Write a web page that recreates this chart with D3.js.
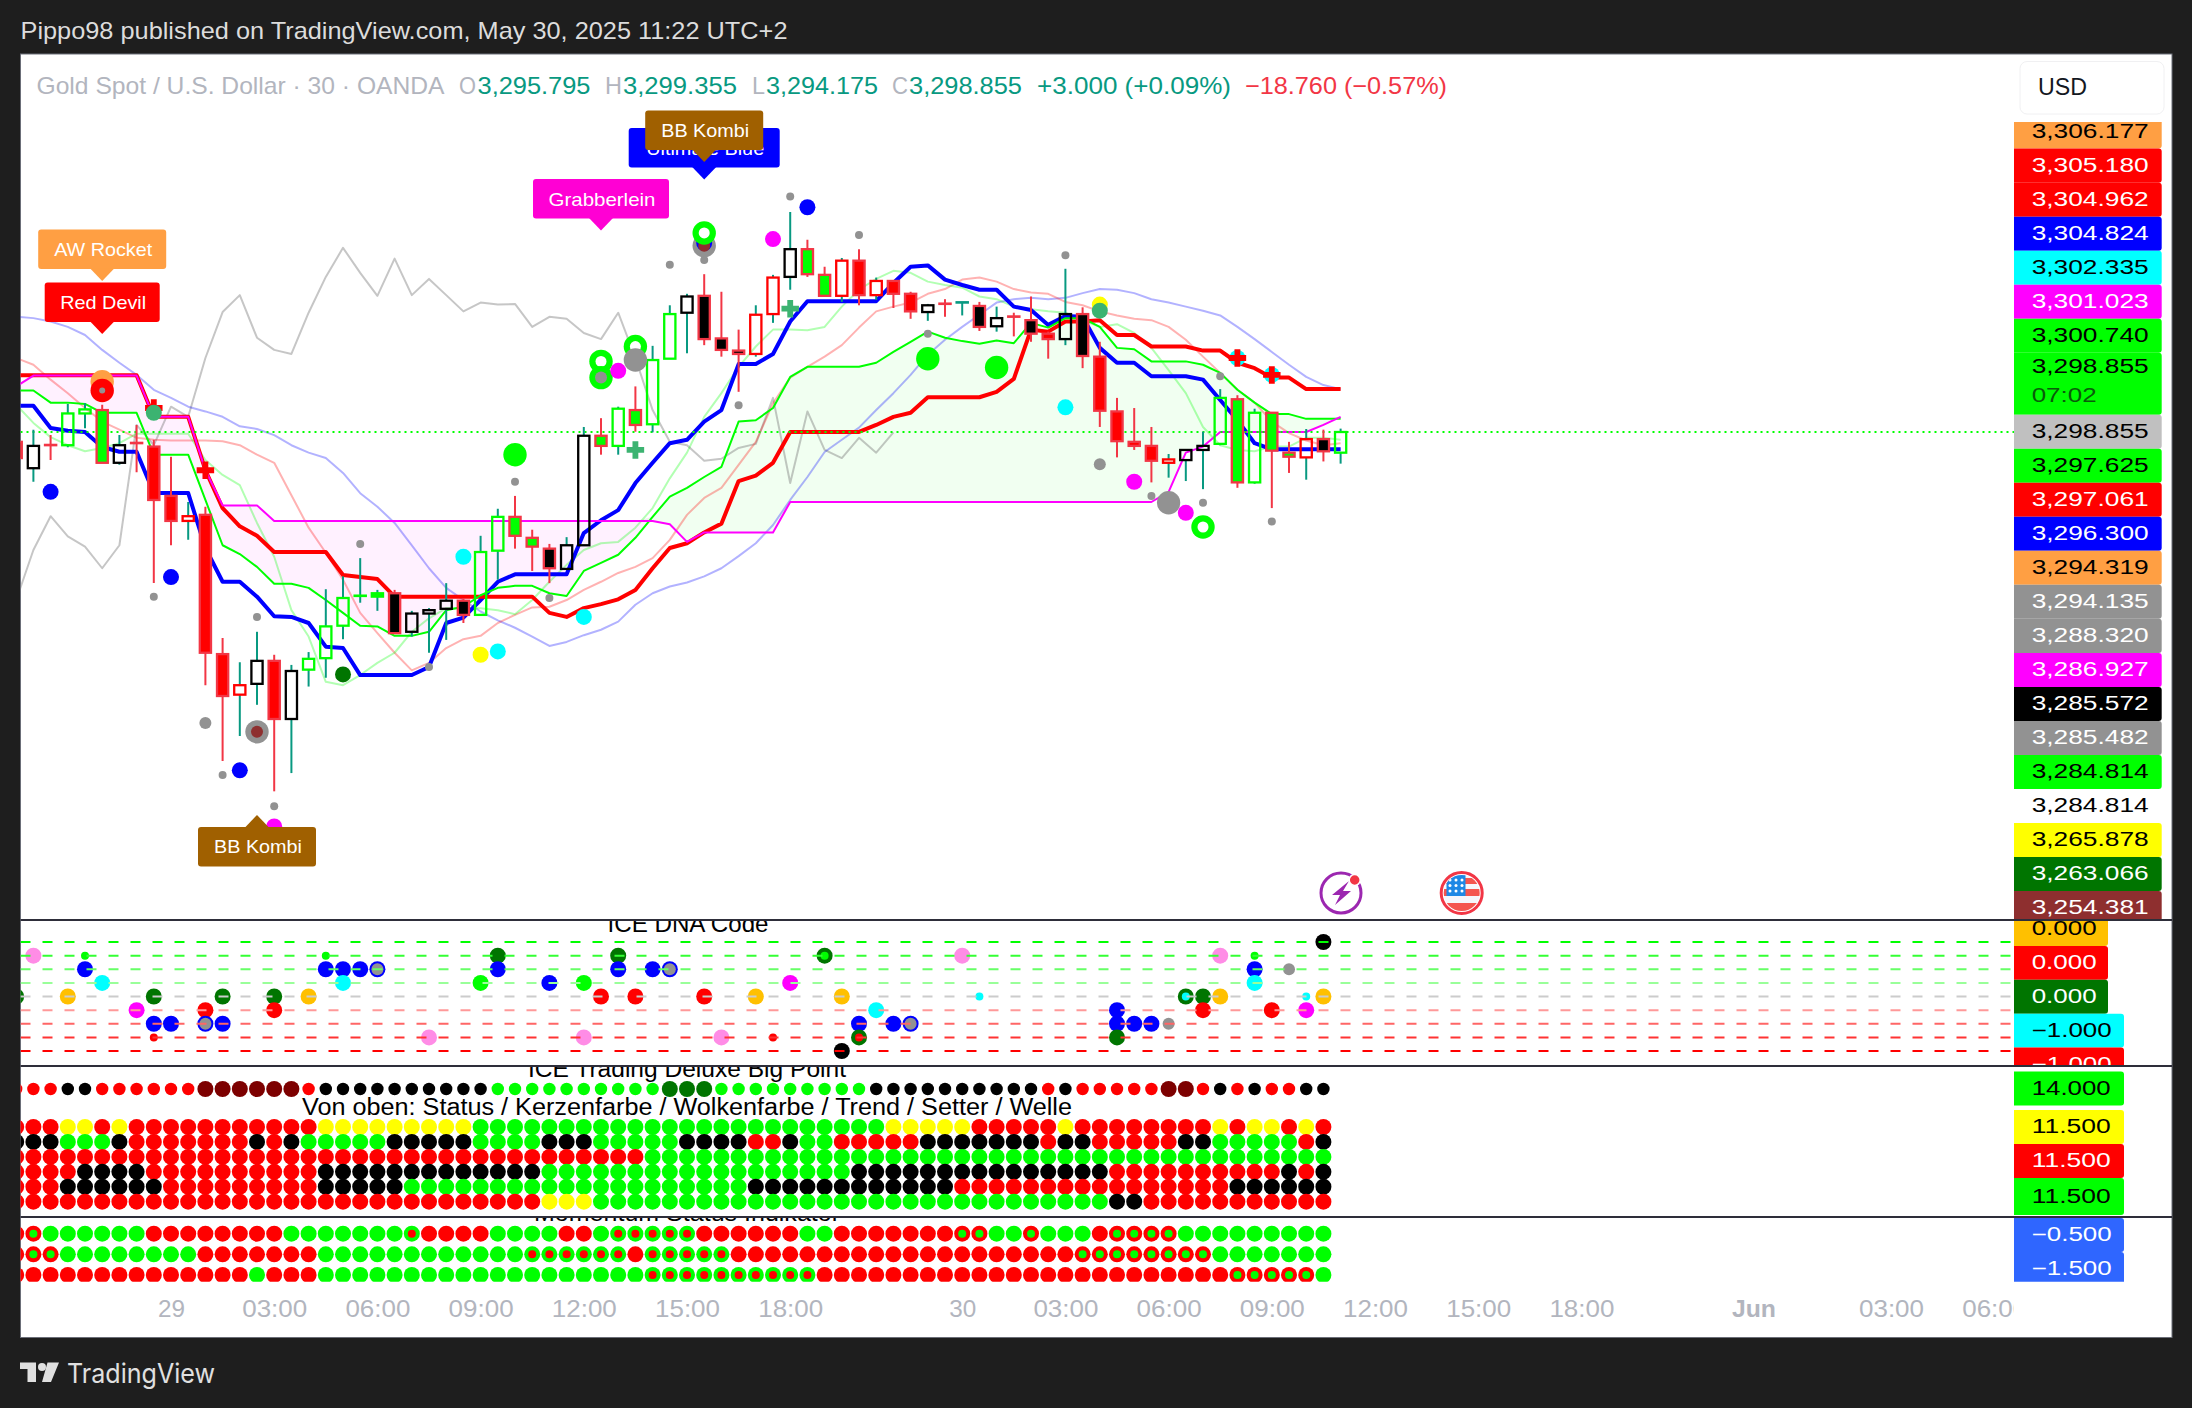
<!DOCTYPE html>
<html><head><meta charset="utf-8">
<style>html,body{margin:0;padding:0;background:#1e1e1e}svg{display:block}text{font-family:"Liberation Sans",Arial,sans-serif}</style>
<script src="https://cdn.jsdelivr.net/npm/d3@7"></script>
</head><body><script>
// ---------- bars: first bar index -9 (May 28, 19:30), index 0 = May 29 00:00 ----------
const firstBar=-9;
const openPrice=[3297.4,3293.5,3296.95,3296.9,3301.6,3302.1,3294.3,3297.25,3296.7,3289.4,3285.7,3286.6,3266.0,3260.0,3261.6,3265.0,3256.4,3263.7,3265.4,3270.2,3274.6,3274.5,3275.0,3269.3,3272.0,3272.7,3273.9,3271.8,3281.3,3286.3,3283.2,3281.6,3278.6,3282.1,3298.3,3296.8,3302.1,3300.0,3309.7,3316.5,3319.0,3312.7,3310.9,3310.4,3316.3,3321.8,3325.9,3322.1,3319.0,3324.2,3319.1,3321.2,3319.3,3316.6,3317.85,3318.0,3317.5,3314.5,3315.95,3315.4,3313.4,3312.6,3316.3,3310.0,3301.9,3297.4,3296.8,3294.3,3294.7,3296.2,3297.1,3303.7,3291.4,3301.7,3295.8,3295.1,3297.8,3295.795];
const closePrice=[3295.0,3296.8,3296.9,3301.6,3302.2,3294.3,3296.9,3297.2,3288.8,3285.7,3286.4,3266.2,3259.8,3261.4,3265.0,3256.4,3263.5,3265.3,3270.1,3274.3,3274.65,3275.0,3269.1,3272.0,3272.5,3273.9,3271.8,3281.1,3286.3,3283.5,3281.9,3278.7,3282.1,3298.3,3296.8,3302.3,3299.9,3309.5,3316.3,3318.9,3312.6,3311.0,3310.4,3316.2,3321.7,3325.9,3322.2,3319.0,3324.2,3319.1,3321.2,3319.3,3316.7,3317.6,3317.8,3318.05,3314.4,3315.7,3315.9,3313.4,3312.6,3316.3,3310.1,3302.0,3297.5,3296.8,3294.6,3294.8,3296.2,3296.8,3303.9,3291.4,3301.7,3296.1,3295.2,3297.8,3296.0,3298.855];
const highPrice=[3297.7,3299.2,3298.4,3303.0,3303.1,3302.9,3298.4,3299.9,3297.7,3295.2,3288.5,3287.8,3268.4,3264.8,3269.3,3265.9,3264.4,3266.3,3275.6,3277.5,3280.2,3275.5,3275.5,3272.4,3272.8,3276.5,3274.3,3283.5,3287.5,3289.4,3284.4,3282.3,3283.3,3299.6,3300.9,3302.6,3305.6,3311.6,3317.6,3319.3,3322.2,3319.6,3314.0,3317.6,3322.1,3331.4,3327.3,3323.3,3324.6,3325.9,3321.7,3321.3,3319.6,3317.8,3318.5,3318.1,3318.1,3317.4,3316.5,3318.9,3313.7,3323.0,3317.3,3312.2,3303.9,3302.4,3299.6,3295.6,3296.3,3298.9,3305.2,3304.3,3302.3,3301.8,3297.4,3299.3,3299.2,3299.355];
const lowPrice=[3291.2,3291.5,3294.7,3296.6,3299.4,3294.3,3294.0,3292.9,3276.5,3282.1,3282.9,3261.4,3250.2,3253.9,3258.5,3245.7,3248.4,3261.2,3262.5,3268.2,3273.6,3272.4,3269.1,3268.6,3266.2,3268.1,3270.6,3271.8,3277.0,3281.6,3278.3,3276.5,3278.6,3282.1,3295.5,3295.5,3298.9,3298.8,3309.7,3310.5,3311.7,3310.0,3304.8,3310.0,3315.0,3319.9,3321.8,3319.0,3318.1,3317.6,3318.4,3317.2,3315.6,3315.3,3315.9,3316.1,3313.8,3313.7,3313.0,3312.2,3309.7,3311.7,3308.3,3299.6,3295.1,3296.2,3291.4,3292.1,3291.6,3290.4,3296.9,3290.6,3291.2,3287.6,3292.8,3291.8,3294.5,3294.175];
const candleStyle=["rr","wk","rr","wg","wg","gr","wk","rr","rr","rr","wr","rr","rr","wr","wk","rr","wk","wg","wg","wg","wg","gg","kr","wk","wk","wk","kr","wg","wg","gr","gr","kr","wk","wk","gr","wg","gr","wg","wg","wk","kr","kr","kr","wr","wr","wk","gr","gr","wr","rr","wr","rr","rr","wk","rr","tt","kr","wk","rr","kr","rr","wk","kr","rr","rr","rr","rr","wr","wk","wk","wg","gr","wg","gr","gr","wr","kr","wg"];
// ---------- overlay lines ----------
const blueLine=[3302.75,3302.75,3299.45,3299.05,3298.86,3296.64,3295.94,3295.94,3289.83,3289.83,3289.83,3281.7,3276.7,3276.7,3274.5,3271.6,3271.5,3270.6,3267.1,3266.9,3262.9,3262.9,3262.9,3262.9,3264.1,3270.6,3271.4,3274,3276.7,3277.8,3277.8,3277.8,3277.8,3283.9,3285.8,3287.3,3291.3,3294.3,3297.2,3297.7,3300.4,3302.1,3308.9,3308.9,3310.4,3315.2,3318.2,3318.2,3318.2,3318.2,3318.2,3320.9,3323.3,3323.5,3321.4,3320.6,3319.9,3319.9,3317.4,3316.9,3314.7,3316,3315.9,3311.3,3309.1,3309.1,3307.1,3307.1,3307.1,3306.6,3303.6,3300.6,3297.2,3296.3,3296.3,3296.3,3296.3,3296.3];
const redLine=[3307.25,3307.25,3307.25,3307.25,3307.25,3307.25,3307.25,3307.25,3301.1,3301.1,3301.1,3293.2,3287.6,3284.9,3283.5,3281.1,3281.1,3281.1,3281.1,3277.7,3277.4,3277.1,3274.5,3274.5,3274.5,3274.5,3274.5,3274.5,3274.5,3274.5,3274.5,3272.1,3271.5,3272.8,3273.4,3274.1,3275.5,3278.7,3281.7,3282.4,3284,3285.3,3291.6,3292.4,3294.3,3298.86,3298.86,3298.86,3298.86,3298.86,3299.9,3301.1,3301.7,3304,3304,3304,3304,3304.8,3306.7,3314,3313.7,3315.2,3315.2,3315.4,3313.2,3313.2,3311.5,3311.5,3311.5,3310.9,3310.9,3309.1,3308.3,3306.9,3306.9,3305.2,3305.2,3305.2];
const greenLine=[3305,3305,3303.2,3303.2,3303,3301.7,3301.7,3301.7,3295.5,3295.5,3295.5,3288.8,3282.1,3280.8,3278.9,3276.4,3276.4,3275.8,3274,3272.1,3270.2,3270.1,3268.7,3268.7,3269.3,3272.5,3273,3274.7,3275.8,3276.1,3276.1,3275,3274.6,3278.3,3279.5,3280.7,3283.2,3286.3,3289.3,3290.6,3292.2,3293.7,3300.4,3300.6,3302.4,3307,3308.5,3308.5,3308.5,3308.5,3309.1,3310.7,3312.2,3313.7,3312.8,3312.3,3311.9,3312.4,3312,3315,3314.3,3315.7,3315.7,3314.4,3311.3,3311.1,3309.3,3309.3,3309.3,3308.8,3307.6,3305.1,3303.2,3301.5,3301.5,3300.8,3300.8,3300.8];
const magentaLine=[3305.6,3307.2,3307.2,3307.2,3307.2,3307.2,3307.2,3307.2,3301.1,3301.1,3301.1,3293.2,3288,3288,3288,3285.7,3285.7,3285.7,3285.7,3285.7,3285.7,3285.7,3285.7,3285.7,3285.7,3285.7,3285.7,3285.7,3285.7,3285.7,3285.7,3285.7,3285.7,3285.7,3285.7,3285.7,3285.7,3285.7,3285.2,3282.6,3284,3284,3284,3284,3284,3288.5,3288.5,3288.5,3288.5,3288.5,3288.5,3288.5,3288.5,3288.5,3288.5,3288.5,3288.5,3288.5,3288.5,3288.5,3288.5,3288.5,3288.5,3288.5,3288.5,3288.5,3288.5,3290,3295.8,3296.7,3298.86,3298.86,3298.86,3298.86,3298.86,3298.86,3299.9,3301.1];
const lightBlueLine=[3315.9,3315.7,3315.2,3314.4,3313.2,3311,3309.1,3307.3,3305.1,3303.9,3302.6,3301.9,3301.1,3299.7,3299.3,3298.4,3296.9,3295.8,3295,3292.8,3289.8,3287.8,3285.4,3282.1,3278.7,3275.8,3274,3272.3,3271,3269.9,3268.6,3267.2,3267.8,3268.8,3269.6,3270.8,3273.3,3275,3276,3276.6,3277.5,3278.7,3280.5,3282.4,3285.1,3288.8,3292.2,3295.9,3297.7,3299.5,3302.1,3304.6,3307.3,3310.3,3312.5,3314.4,3316.2,3318,3318.5,3318.7,3318.5,3318.7,3319.4,3320,3319.9,3319.4,3318.5,3318,3317.4,3316.8,3316.1,3314.4,3312.6,3310.7,3308.8,3307,3305.8,3305.2];
const lightRedLine=[3309.8,3308.8,3306.6,3304.6,3302.4,3300.4,3299.2,3298,3297.7,3297.6,3297.6,3297.6,3297.5,3296.9,3295.5,3294.3,3289.5,3284.7,3281,3277,3272.1,3269.1,3266.2,3263.6,3264.7,3266.9,3268.2,3268.7,3270.6,3271.8,3272.9,3273,3274,3275.5,3276.7,3278,3278.9,3280.2,3282.9,3286.6,3289.1,3290.6,3294,3297.4,3303.1,3306.9,3308.5,3310,3311.7,3314.3,3316.7,3317.4,3318,3319.3,3320,3321.4,3321.7,3321.1,3320,3319.5,3319.3,3318.1,3317.6,3316.7,3316.1,3315.6,3315.4,3314.4,3312.5,3310,3307.6,3305.1,3303.2,3300.4,3298.7,3297.6,3296.9,3297.2];
const lightGreenLine=[3302.9,3300.2,3298.1,3296.9,3296,3296.5,3297.2,3298.6,3298.6,3298.6,3298.6,3294.7,3292.5,3291,3285.4,3280.4,3272.5,3268.6,3261.9,3261.4,3262.9,3264.7,3266.2,3269.3,3271.3,3272.8,3272.8,3272.8,3272.5,3271.9,3274,3276.7,3279.2,3281.4,3282.4,3282.6,3284.7,3287.6,3292,3295.8,3301.1,3304.6,3308.5,3311.5,3314,3314,3313.9,3314.4,3317.4,3319.9,3321.5,3322.7,3322.4,3321.1,3320.6,3320.2,3318.9,3318.5,3317.4,3317,3316.7,3316.5,3315.4,3314.4,3314.8,3313.5,3311.3,3308,3304.6,3299.6,3296.9,3296.2,3296,3296.7,3296.7,3298,3298,3297.7];
const grayLine=[3274,3281.4,3286.4,3283.4,3281.9,3278.7,3282.1,3299.9,3296.9,3302.6,3301.1,3309.8,3316.6,3319.1,3312.8,3311,3310.4,3316.5,3321.8,3326.1,3322.4,3319,3324.5,3319.1,3321.5,3319.1,3316.7,3318,3317.7,3317.8,3314.4,3315.9,3315.6,3313.5,3312.6,3316.5,3309.8,3302.1,3297.4,3296.9,3294.6,3294.9,3296.5,3297.1,3303.9,3291.3,3301.9,3296.2,3295,3298,3295.8,3298.8];
const lastPrice=3298.855;
// ---------- main pane markers ----------
const markBar=[-4,-4,-4,-1,-1,-7,0,-1,2,2,3,4,5,5,5,6,6,10,11,18,19,17,24,22,15,20,20,25,25,25,25,26,27,27,27,27,29,31,31,31,31,31,31,35,36,36,37,40,44,44,48,33,52,52,54,54,54,56,57,58,59,60,60,60,61,62,62,64,64,64];
const markPrice=[3306.3,3305,3305,3302.4,3301.7,3290,3277.4,3274.5,3293.2,3255.8,3248.1,3248.8,3271.5,3254.5,3254.5,3243.5,3240.5,3263,3282.3,3265.9,3266.4,3280.4,3271.5,3274.3,3264.1,3295.5,3291.5,3309.3,3309.3,3306.9,3306.9,3307.9,3311.5,3311.5,3309.5,3296.2,3323.6,3326.4,3326.8,3326.4,3328.3,3328.3,3324.3,3327.4,3333.7,3317.1,3332.1,3328,3313.4,3309.7,3308.4,3302.8,3325,3302.5,3317.7,3316.8,3294.1,3291.5,3289.4,3288.4,3286.9,3288.4,3284.8,3284.8,3307.1,3309.8,3309.8,3307.3,3307.3,3285.6];
const markSize=["l","l","xs","plus","m","m","m","s","plus","g","s","m","s","l","g","s","m","m","s","m","m","m","m","s","s","l","s","l","i","l","g","m","l","i","l","plus","s","l","m","g","l","i","s","m","s","plus","m","s","s","l","l","s","s","m","m","m","g","m","s","l","m","s","l","i","s","m","plus","m","plus","s"];
const markColor=["#ff9f43","#ff0000","#929292","#ff0000","#3cb371","#0000ff","#0000ff","#929292","#ff0000","#929292","#929292","#0000ff","#929292","#929292","#8e2f2f","#929292","#ff00ff","#007500","#929292","#ffff00","#00ffff","#00ffff","#00ffff","#929292","#929292","#00ff00","#929292","#00ff00","#ffffff","#00ff00","#929292","#ff00ff","#00ff00","#ffffff","#929292","#3cb371","#929292","#929292","#0000ff","#8e2f2f","#00ff00","#ffffff","#929292","#ff00ff","#929292","#3cb371","#0000ff","#929292","#929292","#00ff00","#00ff00","#929292","#929292","#00ffff","#ffff00","#3cb371","#929292","#ff00ff","#929292","#929292","#ff00ff","#929292","#00ff00","#ffffff","#929292","#00ffff","#ff0000","#00ffff","#ff0000","#929292"];
// ---------- callouts on the price pane ----------
const calloutText=["AW Rocket","Red Devil","Ultimate Blue","BB Kombi","Grabberlein","BB Kombi"];
const calloutBar=[-4,-4,31,31,25,5];
const calloutPrice=[3321.2,3313.36,3336.2,3338.8,3328.65,3242.2];
const calloutDir=["down","down","down","down","down","up"];
const calloutColor=["#ff9f43","#ff0000","#0000ff","#a06000","#ff00d4","#a06000"];
// ---------- DNA pane ----------
const dnaLevels=[4,3,2,1,0,-1,-2,-3,-4];
const dnaLevelColor=["#00ff00","#33ff33","#66ff66","#99ff99","#cccccc","#ff9999","#ff6666","#ff3333","#ff0000"];
const dnaBar=[-9,-8,-6,-5,-5,-4,-2,-1,-1,-1,0,2,2,2,3,3,6,6,8,9,9,10,10,11,12,12,15,18,19,19,22,24,24,25,26,26,27,28,29,29,31,32,34,35,36,38,38,39,39,40,40,40,41,42,43,43,46,47,55,55,55,56,57,58,59,59,60,60,61,61,63,63,63,64,65,66,66,67,67];
const dnaValue=[0,3,0,3,2,1,-1,0,-2,-3,-2,-1,-2,-2,0,-2,0,-1,0,3,2,2,1,2,2,2,-3,1,3,2,1,1,-3,0,3,2,0,2,2,2,0,-3,0,-3,1,3,3,0,-4,-2,-3,-3,-1,-2,-2,-2,3,0,-1,-2,-3,-2,-2,-2,0,0,0,-1,3,0,3,2,1,-1,2,0,-1,4,0];
const dnaSize=["m","m","m","s","m","m","m","m","m","s","m","m","m","g","m","m","m","m","m","s","m","m","m","m","m","g","m","m","m","m","m","m","m","m","m","m","m","m","m","g","m","m","m","s","m","m","s","m","m","m","m","s","m","m","m","g","m","s","m","m","m","m","m","g","m","s","m","m","m","m","s","m","m","m","g","s","m","m","m"];
const dnaColor=["#007500","#ff8ce6","#ffc000","#00ff00","#0000ff","#00ffff","#ff00ff","#007500","#0000ff","#ff0000","#0000ff","#ff0000","#0000ff","#929292","#007500","#0000ff","#007500","#ff0000","#ffc000","#00ff00","#0000ff","#0000ff","#00ffff","#0000ff","#0000ff","#929292","#ff8ce6","#00ff00","#007500","#0000ff","#0000ff","#00ff00","#ff8ce6","#ff0000","#007500","#0000ff","#ff0000","#0000ff","#0000ff","#929292","#ff0000","#ff8ce6","#ffc000","#ff0000","#ff00ff","#007500","#00ff00","#ffc000","#000000","#0000ff","#007500","#ff0000","#00ffff","#0000ff","#0000ff","#929292","#ff8ce6","#00ffff","#0000ff","#0000ff","#007500","#0000ff","#0000ff","#929292","#007500","#00ffff","#007500","#ff0000","#ff8ce6","#ffc000","#00ff00","#0000ff","#00ffff","#ff0000","#929292","#00ffff","#ff00ff","#000000","#ffc000"];
// ---------- Big Point pane: one letter per bar ----------
const bigPointRow="rrrkkrrrrrrDDDDDDrkkkkkkkkkkggggggggggGGGgggggggggkkkkkkkkkkrkrrrrrDDrkrkrrkk";
const statusRow="rrryyryrrrrrrrrrrr"+"yyyyyyyyy"+"gggggggggggggggggggggggg"+"yyyyy"+"rrrrr"+"y"+"rrrrrrrr"+"y"+"r"+"yy"+"r"+"y"+"r";
const candleRow="kkkgggkrrrrrrrkrkgggggkkkkkggggkkkgggggkkkkrrkggrrrrrkkkkkkkrkkrrrrrkkgggggrk";
const cloudRow="rrrrrrrrrrrrrrrrrrrrrrrrrrrrrrrrrrrrr"+"gggggggggggggggggggggggggggggggggggggggg";
const trendRow="rrrrkkkkrrrrrrrrrrkkkkkkkkkkkkkggggggggggggggggggkkkkkkkkkkkkkkkrrrrrrrrrrkrk";
const setterRow="rrrkkkkkkrrrrrrrrrkkkkkggggggggggggggggggggkkkkkkkkkkkkrrrrrrrrrrrrrrrrkkkkkk";
const waveRow="rrrrrrrrrrrrrrrrrrrrrrrrrrrrrrryyyggggggggggggggggggggggggggggggkkrrrrrrrrrrr";
const gridRows=[statusRow,candleRow,cloudRow,trendRow,setterRow,waveRow];
// ---------- Momentum pane ----------
const momentumA="rPggggggrrrrrrrrgggggggQrrrrggggrrgQQQQQrrrrrrggrrrrrrrPPggPgggrPPPPggggggggg";
const momentumB="rPPggggggggrrrrrrrggggggggggggQQQQQQrQQQQQrrrrrrrrrrrrrrrrrrrrPPPPPPPPggggggg";
const momentumC="rrrrrrrrrrrrrrgrrrgggggggggggggggggggQQQQQQQQQQrrrrrrrrrrrrrrrrrrrrrrrrPPPPPg";
const momentumRows=[momentumA,momentumB,momentumC];
// ---------- axis + scale labels ----------
const timeTickBars=[0,6,12,18,24,30,36,46,52,58,64,70,76,82,92,100,106];
const timeTickText=["29","03:00","06:00","09:00","12:00","15:00","18:00","30","03:00","06:00","09:00","12:00","15:00","18:00","Jun","03:00","06:00"];
const priceLabelText=["3,306.177","3,305.180","3,304.962","3,304.824","3,302.335","3,301.023","3,300.740","3,298.855","3,298.855","3,297.625","3,297.061","3,296.300","3,294.319","3,294.135","3,288.320","3,286.927","3,285.572","3,285.482","3,284.814","3,284.814","3,265.878","3,263.066","3,254.381"];
const priceLabelFill=["#ff9f43","#ff0000","#ff0000","#0000ff","#00ffff","#ff00ff","#00ff00","#00ff00","#c0c0c0","#00ff00","#ff0000","#0000ff","#ff9f43","#929292","#929292","#ff00ff","#000000","#929292","#00ff00","#ffffff","#ffff00","#007500","#8e2f2f"];
const priceLabelInk=["#000","#fff","#fff","#fff","#000","#fff","#000","#000","#000","#000","#fff","#fff","#000","#fff","#fff","#fff","#fff","#fff","#000","#000","#000","#fff","#fff"];
const dnaLabelText=["0.000","0.000","0.000","−1.000","−1.000"];
const dnaLabelFill=["#ffc000","#ff0000","#007500","#00ffff","#ff0000"];
const dnaLabelInk=["#000","#fff","#fff","#000","#fff"];
const bigLabelText=["14.000","11.500","11.500","11.500"];
const bigLabelFill=["#00ff00","#ffff00","#ff0000","#00ff00"];
const bigLabelInk=["#000","#000","#fff","#000"];
const momLabelText=["−0.500","−1.500"];

const W=2192,H=1408,L=20.5,R=2172,AX=2014,T=54,P1=920,P2=1066,P3=1217,B=1337.5;
const svg=d3.select("body").append("svg").attr("width",W).attr("height",H);
const C={r:"#ff0000",k:"#000000",g:"#00ff00",y:"#ffff00",D:"#7d0000",G:"#007500"};
svg.append("rect").attr("width",W).attr("height",H).attr("fill","#1e1e1e");
svg.append("rect").attr("x",L).attr("y",T).attr("width",R-L).attr("height",B-T).attr("fill","#fff").attr("stroke","#6b6e78").attr("stroke-width",1);
const defs=svg.append("defs");
const clip=(id,cx,cy,w,h)=>defs.append("clipPath").attr("id",id).append("rect").attr("x",cx).attr("y",cy).attr("width",w).attr("height",h);
clip("cMain",L,T,AX-L,P1-T);clip("cDna",L,P1,AX-L,P2-P1);clip("cBig",L,P2,AX-L,P3-P2);clip("cMom",L,P3,AX-L,1281.7-P3);
clip("cAxis",L,P3,AX-L,B-P3);clip("cLab1",AX,122,R-AX,P1-122);clip("cLab2",AX,P1,R-AX,P2-P1);clip("cLab3",AX,P2,R-AX,P3-P2);clip("cLab4",AX,P3,R-AX,1281.7-P3);

const x=d3.scaleLinear().domain([-8.75,107.15]).range([L,AX]);
const y=d3.scaleLinear().domain([3354.772,3226.666]).range([T,P1]);
const bars=openPrice.map((_,i)=>i+firstBar);
const RAD={xs:3,s:4,g:6,i:5.5,m:8,l:11.7};
const main=svg.append("g").attr("clip-path","url(#cMain)");

// cloud
const cloud=(a,b,col)=>main.append("path").attr("fill",col).attr("d",d3.area().x(t=>x(t))
  .y0((t,i)=>y(b[i])).y1((t,i)=>y(Math.max(a[i],b[i])))(bars));
cloud(magentaLine,greenLine,"rgba(255,0,255,0.055)");
cloud(greenLine,magentaLine,"rgba(0,255,0,0.055)");
const drawLine=(vals,col,w,op)=>main.append("path").attr("fill","none").attr("stroke",col).attr("stroke-width",w).attr("stroke-opacity",op||1).attr("stroke-linejoin","round")
  .attr("d",d3.line().x((v,i)=>x(i+firstBar)).y(v=>y(v))(vals));
drawLine(grayLine,"#808080",2,.45);
drawLine(lightBlueLine,"#0000ff",2,.3);
drawLine(lightRedLine,"#ff0000",2,.3);
drawLine(lightGreenLine,"#00ff00",2,.3);
drawLine(blueLine,"#0000ff",4);
drawLine(redLine,"#ff0000",4);
drawLine(greenLine,"#00ff00",2);
drawLine(magentaLine,"#ff00ff",2);
main.append("line").attr("x1",L).attr("x2",AX).attr("y1",y(lastPrice)).attr("y2",y(lastPrice)).attr("stroke","#00ff00").attr("stroke-width",2).attr("stroke-dasharray","2 4");

// candles
const STY={rr:["#ff0000","#f23645"],wk:["none","#000"],wg:["none","#00ff00"],wr:["none","#ff0000"],kr:["#000","#f23645"],gr:["#00ff00","#f23645"],gg:["#00ff00","#00ff00"],tt:["#089981","#089981"]};
const cg=main.append("g");
bars.forEach((t,i)=>{
  const up=closePrice[i]>=openPrice[i],wc=up?"#089981":"#f23645",tp=Math.max(openPrice[i],closePrice[i]),bt=Math.min(openPrice[i],closePrice[i]),cx=x(t);
  [[highPrice[i],tp],[bt,lowPrice[i]]].forEach(s=>cg.append("line").attr("x1",cx).attr("x2",cx).attr("y1",y(s[0])).attr("y2",y(s[1])).attr("stroke",wc).attr("stroke-width",2));
  cg.append("rect").attr("x",cx-5.6).attr("width",11.2).attr("y",y(tp)).attr("height",Math.max(y(bt)-y(tp),.1))
    .attr("fill",STY[candleStyle[i]][0]).attr("stroke",STY[candleStyle[i]][1]).attr("stroke-width",2.3);
});
// markers
markBar.forEach((t,i)=>{
  if(markSize[i]==="plus") main.append("path").attr("d",d3.symbol().type(d3.symbolCross).size(170)()).attr("transform",`translate(${x(t)},${y(markPrice[i])})`).attr("fill",markColor[i]);
  else main.append("circle").attr("cx",x(t)).attr("cy",y(markPrice[i])).attr("r",RAD[markSize[i]]).attr("fill",markColor[i]);
});
// callouts
calloutText.forEach((s,i)=>{
  const wd={"AW Rocket":128,"Red Devil":115,"Ultimate Blue":151,"BB Kombi":118,"Grabberlein":136}[s],tw={"AW Rocket":98,"Red Devil":86,"Ultimate Blue":118,"BB Kombi":88,"Grabberlein":107}[s];
  const cx=x(calloutBar[i]),tip=y(calloutPrice[i]),dn=calloutDir[i]==="down";
  const boxTop=dn?tip-51.5:tip+12,g=svg.append("g");
  g.append("rect").attr("x",cx-wd/2).attr("y",boxTop).attr("width",wd).attr("height",39.5).attr("rx",3).attr("fill",calloutColor[i]);
  g.append("path").attr("fill",calloutColor[i]).attr("d",dn?`M${cx-12},${tip-12.5}L${cx},${tip}L${cx+12},${tip-12.5}Z`:`M${cx-12},${tip+12.5}L${cx},${tip}L${cx+12},${tip+12.5}Z`);
  g.append("text").attr("x",cx+1).attr("y",boxTop+26.5).attr("text-anchor","middle").attr("fill","#fff").attr("font-size",19).attr("textLength",tw).attr("lengthAdjust","spacingAndGlyphs").text(s);
});
// event icons
const ic=svg.append("g");
ic.append("circle").attr("cx",1341).attr("cy",893).attr("r",20).attr("fill","none").attr("stroke","#9c27b0").attr("stroke-width",3);
ic.append("path").attr("fill","#9c27b0").attr("d","M1349,881L1332,895H1340L1335,905L1351,891H1343Z");
ic.append("circle").attr("cx",1354.7).attr("cy",880).attr("r",5.5).attr("fill","#f23645").attr("stroke","#fff").attr("stroke-width",1.5);
defs.append("clipPath").attr("id","cFlag").append("circle").attr("cx",1461.7).attr("cy",893).attr("r",18);
const fl=ic.append("g").attr("clip-path","url(#cFlag)");
fl.append("rect").attr("x",1440).attr("y",870).attr("width",44).attr("height",46).attr("fill","#f5f6fb");
fl.append("rect").attr("x",1440).attr("y",878).attr("width",44).attr("height",6).attr("fill","#f4554f");
fl.append("rect").attr("x",1440).attr("y",889).attr("width",44).attr("height",7).attr("fill","#f4554f");
fl.append("rect").attr("x",1440).attr("y",903).attr("width",44).attr("height",14).attr("fill","#f4554f");
fl.append("rect").attr("x",1446.5).attr("y",875).attr("width",19).attr("height",21).attr("fill","#1e88e5");
[880,885.5,891].forEach(yy=>[1450,1456,1462].forEach(xx=>fl.append("circle").attr("cx",xx).attr("cy",yy).attr("r",1.5).attr("fill","#fff")));
ic.append("circle").attr("cx",1461.7).attr("cy",893).attr("r",20.5).attr("fill","none").attr("stroke","#f23645").attr("stroke-width",3);

// pane 2
const dnaY=d3.scaleLinear().domain([4,-4]).range([942,1051]);
const dna=svg.append("g").attr("clip-path","url(#cDna)");
dnaBar.forEach((t,i)=>dna.append("circle").attr("cx",x(t)).attr("cy",dnaY(dnaValue[i])).attr("r",dnaSize[i]==="s"?4:dnaSize[i]==="g"?6:8).attr("fill",dnaColor[i]));
dnaLevels.forEach((v,i)=>dna.append("line").attr("x1",L).attr("x2",AX).attr("y1",dnaY(v)).attr("y2",dnaY(v)).attr("stroke",dnaLevelColor[i]).attr("stroke-width",2).attr("stroke-dasharray","10 12"));
const title=(par,s,cx,by,w)=>par.append("text").attr("x",cx).attr("y",by).attr("text-anchor","middle").attr("fill","#000").attr("font-size",23).attr("textLength",w).attr("lengthAdjust","spacingAndGlyphs").text(s);
title(dna,"ICE DNA Code",688,931.7,161);

// pane 3
const big=svg.append("g").attr("clip-path","url(#cBig)");
title(big,"ICE Trading Deluxe Big Point",687,1076.7,318);
bigPointRow.split("").forEach((c,i)=>big.append("circle").attr("cx",x(i+firstBar)).attr("cy",1089).attr("r",c==="D"||c==="G"?8:6.2).attr("fill",C[c]));
const rowY=d3.scalePoint().domain(d3.range(gridRows.length)).range([1127,1201.7]);
gridRows.forEach((row,r)=>row.split("").forEach((c,i)=>big.append("circle").attr("cx",x(i+firstBar)).attr("cy",rowY(r)).attr("r",8).attr("fill",C[c])));
title(big,"Von oben: Status / Kerzenfarbe / Wolkenfarbe / Trend / Setter / Welle",687,1115,770);

// pane 4
const mom=svg.append("g").attr("clip-path","url(#cMom)");
title(mom,"Momentum Status Indikator",687,1220.7,306);
const momY=d3.scalePoint().domain(d3.range(3)).range([1233.7,1275]);
momentumRows.forEach((row,r)=>row.split("").forEach((c,i)=>{
  const outer=(c==="r"||c==="P")?"#ff0000":"#00ff00";
  mom.append("circle").attr("cx",x(i+firstBar)).attr("cy",momY(r)).attr("r",8).attr("fill",outer);
  if(c==="P"||c==="Q") mom.append("circle").attr("cx",x(i+firstBar)).attr("cy",momY(r)).attr("r",4).attr("fill",c==="P"?"#00ff00":"#ff0000");
}));

// pane separators
[P1,P2,P3].forEach(v=>svg.append("line").attr("x1",L).attr("x2",R).attr("y1",v).attr("y2",v).attr("stroke","#2e2e3a").attr("stroke-width",2));

// time axis
const axG=svg.append("g").attr("clip-path","url(#cAxis)").append("g").attr("transform","translate(0,1290)")
  .call(d3.axisBottom(x).tickValues(timeTickBars).tickSize(0).tickPadding(0).tickFormat((d,i)=>timeTickText[i]));
axG.select(".domain").remove();
axG.selectAll("text").attr("fill","#b2b5be").attr("font-size",23).attr("dy","0.71em").attr("y",11)
  .attr("font-weight",(d,i)=>timeTickText[i]==="Jun"?"bold":"normal")
  .attr("textLength",(d,i)=>timeTickText[i].length>3?65:(timeTickText[i]==="Jun"?44:27)).attr("lengthAdjust","spacingAndGlyphs");

// scale labels
function tag(par,tagTop,h,right,fill,ink,s,tw,second){
  par.append("path").attr("fill",fill).attr("d",`M${AX},${tagTop}H${right-3}Q${right},${tagTop} ${right},${tagTop+3}V${tagTop+h-3}Q${right},${tagTop+h} ${right-3},${tagTop+h}H${AX}Z`);
  const t=par.append("text").attr("x",2031.7).attr("fill",ink).attr("font-size",19.5).attr("textLength",tw).attr("lengthAdjust","spacingAndGlyphs").text(s);
  if(second){t.attr("y",tagTop+20.5);par.append("text").attr("x",2031.7).attr("y",tagTop+49.5).attr("fill","#0a5c0a").attr("font-size",19.5).attr("textLength",65).attr("lengthAdjust","spacingAndGlyphs").text(second);}
  else t.attr("y",tagTop+h/2+6.2);
}
const lab1=svg.append("g").attr("clip-path","url(#cLab1)");
let labelTop=114.6;
priceLabelText.forEach((s,i)=>{
  const two=i===7,h=two?62:34.02;
  if(priceLabelFill[i]!=="#ffffff") tag(lab1,labelTop,h,2161.7,priceLabelFill[i],priceLabelInk[i],s,117,two?"07:02":null);
  else {lab1.append("text").attr("x",2031.7).attr("y",labelTop+h/2+6.2).attr("fill","#000").attr("font-size",19.5).attr("textLength",117).attr("lengthAdjust","spacingAndGlyphs").text(s);}
  labelTop+=h;
});
const lab2=svg.append("g").attr("clip-path","url(#cLab2)");
dnaLabelText.forEach((s,i)=>tag(lab2,912+i*33.9,33.9,i<3?2108:2124,dnaLabelFill[i],dnaLabelInk[i],s,i<3?65:80));
const lab3=svg.append("g").attr("clip-path","url(#cLab3)");
[1071.5,1110,1144,1178].forEach((v,i)=>tag(lab3,v,i===3?37:34,2124,bigLabelFill[i],bigLabelInk[i],bigLabelText[i],79));
const lab4=svg.append("g").attr("clip-path","url(#cLab4)");
momLabelText.forEach((s,i)=>tag(lab4,1218+i*34,34,2124,"#2f66ff","#fff",s,80));
[P1,P2,P3].forEach(v=>svg.append("line").attr("x1",AX).attr("x2",R).attr("y1",v).attr("y2",v).attr("stroke","#2e2e3a").attr("stroke-width",2));
// USD
svg.append("rect").attr("x",2020).attr("y",61.5).attr("width",144).attr("height",52.5).attr("rx",7).attr("fill","#fff").attr("stroke","#f0f0f2");
svg.append("text").attr("x",2038).attr("y",95).attr("font-size",23).attr("fill","#131722").attr("textLength",49).attr("lengthAdjust","spacingAndGlyphs").text("USD");

// legend
const leg=(s,xx,w,col)=>svg.append("text").attr("x",xx).attr("y",94).attr("font-size",24).attr("fill",col).attr("textLength",w).attr("lengthAdjust","spacingAndGlyphs").text(s);
const G1="#b2b5be",TE="#089981",RD="#f23645";
leg("Gold Spot / U.S. Dollar · 30 · OANDA",36.5,408,G1);
leg("O",459,17,G1);leg("3,295.795",477.5,113,TE);
leg("H",605,17,G1);leg("3,299.355",623,114,TE);
leg("L",752,13,G1);leg("3,294.175",766,112,TE);
leg("C",892,16,G1);leg("3,298.855",909,113,TE);
leg("+3.000 (+0.09%)",1037,194,TE);
leg("−18.760 (−0.57%)",1245,202,RD);

// header & footer
svg.append("text").attr("x",20.5).attr("y",39).attr("font-size",24).attr("fill","#dcdcdc").attr("textLength",767).attr("lengthAdjust","spacingAndGlyphs").text("Pippo98 published on TradingView.com, May 30, 2025 11:22 UTC+2");
svg.append("path").attr("fill","#e0e0e0").attr("d","M20,1362.5H36V1382H27.5V1369H20ZM47.5,1362.5H59L51,1382H42Z");
svg.append("circle").attr("cx",42).attr("cy",1367).attr("r",4).attr("fill","#e0e0e0");
svg.append("text").attr("x",67).attr("y",1382.5).attr("font-size",27).attr("fill","#e0e0e0").attr("style","font-family:Inter").attr("textLength",148).attr("lengthAdjust","spacingAndGlyphs").text("TradingView");
</script></body></html>
